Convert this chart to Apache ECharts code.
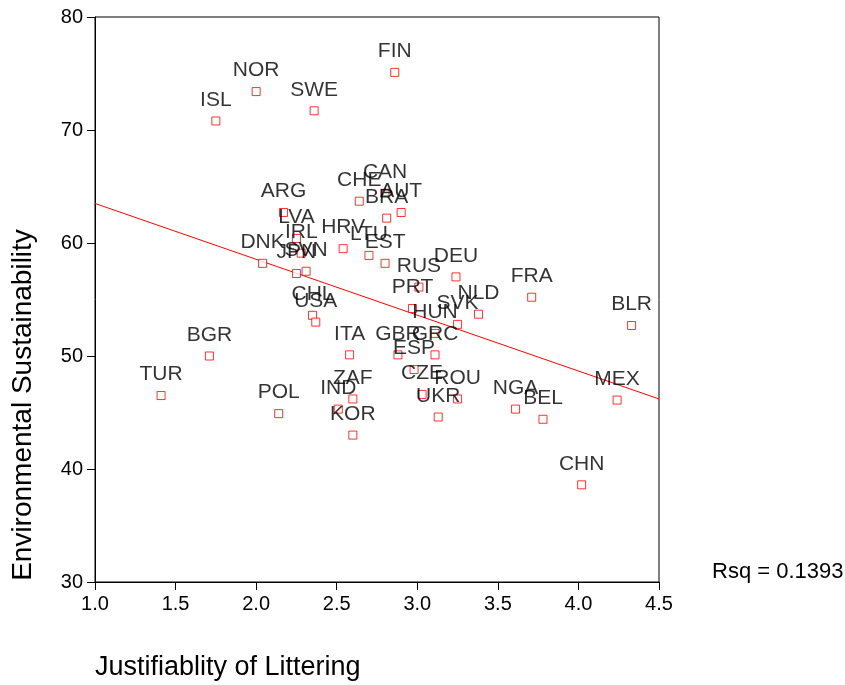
<!DOCTYPE html>
<html>
<head>
<meta charset="utf-8">
<style>
  html, body { margin: 0; padding: 0; background: #fff; }
  #chart { width: 845px; height: 685px; }
</style>
<script src="https://cdn.jsdelivr.net/npm/echarts@6/dist/echarts.min.js"></script>
</head>
<body>
<div id="chart"></div>
<script>
var countries = ['ISL', 'NOR', 'SWE', 'FIN', 'CHE', 'CAN', 'AUT', 'BRA', 'ARG', 'LVA',
  'IRL', 'DNK', 'JPN', 'SVN', 'HRV', 'LTU', 'EST', 'CHL', 'USA', 'DEU',
  'RUS', 'PRT', 'HUN', 'SVK', 'NLD', 'GRC', 'GBR', 'ESP', 'ITA', 'ZAF',
  'IND', 'KOR', 'CZE', 'ROU', 'UKR', 'NGA', 'BEL', 'MEX', 'CHN', 'FRA',
  'BLR', 'TUR', 'BGR', 'POL'];
var littering = [1.75, 2.00, 2.36, 2.86, 2.64, 2.80, 2.90, 2.81, 2.17, 2.25,
  2.28, 2.04, 2.25, 2.31, 2.54, 2.70, 2.80, 2.35, 2.37, 3.24,
  3.01, 2.97, 3.11, 3.25, 3.38, 3.11, 2.88, 2.98, 2.58, 2.60,
  2.51, 2.60, 3.03, 3.25, 3.13, 3.61, 3.78, 4.24, 4.02, 3.71,
  4.33, 1.41, 1.71, 2.14];
var sustainability = [70.8, 73.4, 71.7, 75.1, 63.7, 64.4, 62.7, 62.2, 62.7, 60.4,
  59.1, 58.2, 57.3, 57.5, 59.5, 58.9, 58.2, 53.6, 53.0, 57.0,
  56.1, 54.2, 52.0, 52.8, 53.7, 50.1, 50.1, 48.8, 50.1, 46.2,
  45.3, 43.0, 46.6, 46.2, 44.6, 45.3, 44.4, 46.1, 38.6, 55.2,
  52.7, 46.5, 50.0, 44.9];
// fitted line end points
var fitX = [1.0, 4.5];
var fitY = [63.5, 46.2];
var rsqText = 'Rsq = 0.1393';

var font = 'Liberation Sans, Arial, Helvetica, sans-serif';

var points = countries.map(function(c, i) {
  return { name: c, value: [littering[i], sustainability[i]] };
});
var fitLine = fitX.map(function(x, i) { return [x, fitY[i]]; });

var chart = echarts.init(document.getElementById('chart'), null, { renderer: 'canvas' });

chart.setOption({
  animation: false,
  backgroundColor: '#fff',
  grid: {
    left: 95, right: 186, top: 17, bottom: 103,
    show: true, borderColor: '#000', borderWidth: 1, backgroundColor: 'transparent'
  },
  xAxis: {
    type: 'value',
    min: 1.0, max: 4.5, interval: 0.5,
    axisLine: { onZero: false, lineStyle: { color: '#000', width: 1 } },
    axisTick: { show: true, length: 8, lineStyle: { color: '#000' } },
    axisLabel: {
      color: '#000', fontSize: 20, fontFamily: font, margin: 12,
      formatter: function(v) { return v.toFixed(1); }
    },
    splitLine: { show: false }
  },
  yAxis: {
    type: 'value',
    min: 30, max: 80, interval: 10,
    axisLine: { show: true, onZero: false, lineStyle: { color: '#000', width: 1 } },
    axisTick: { show: true, length: 8, lineStyle: { color: '#000' } },
    axisLabel: { color: '#000', fontSize: 20, fontFamily: font, margin: 12 },
    splitLine: { show: false }
  },
  series: [
    {
      type: 'line',
      data: fitLine,
      symbol: 'none',
      silent: true,
      lineStyle: { color: '#ff0000', width: 1 },
      z: 1
    },
    {
      type: 'scatter',
      data: points,
      symbol: 'rect',
      symbolSize: 8,
      itemStyle: { color: '#fff', borderColor: '#ff0000', borderWidth: 1 },
      label: {
        show: true,
        position: 'top',
        distance: 6,
        formatter: '{b}',
        color: '#000',
        fontSize: 21,
        fontFamily: font
      },
      z: 2
    }
  ],
  graphic: [
    {
      type: 'text',
      x: 23, y: 405,
      rotation: Math.PI / 2,
      style: {
        text: 'Environmental Sustainability',
        font: '28px ' + font,
        fill: '#000',
        textAlign: 'center',
        textVerticalAlign: 'middle'
      }
    },
    {
      type: 'text',
      x: 95, y: 668,
      style: {
        text: 'Justifiablity of Littering',
        font: '27px ' + font,
        fill: '#000',
        textAlign: 'left',
        textVerticalAlign: 'middle'
      }
    },
    {
      type: 'text',
      x: 712, y: 572,
      style: {
        text: rsqText,
        font: '22px ' + font,
        fill: '#000',
        textAlign: 'left',
        textVerticalAlign: 'middle'
      }
    }
  ]
});

window.addEventListener('resize', function() { chart.resize(); });
</script>
</body>
</html>
